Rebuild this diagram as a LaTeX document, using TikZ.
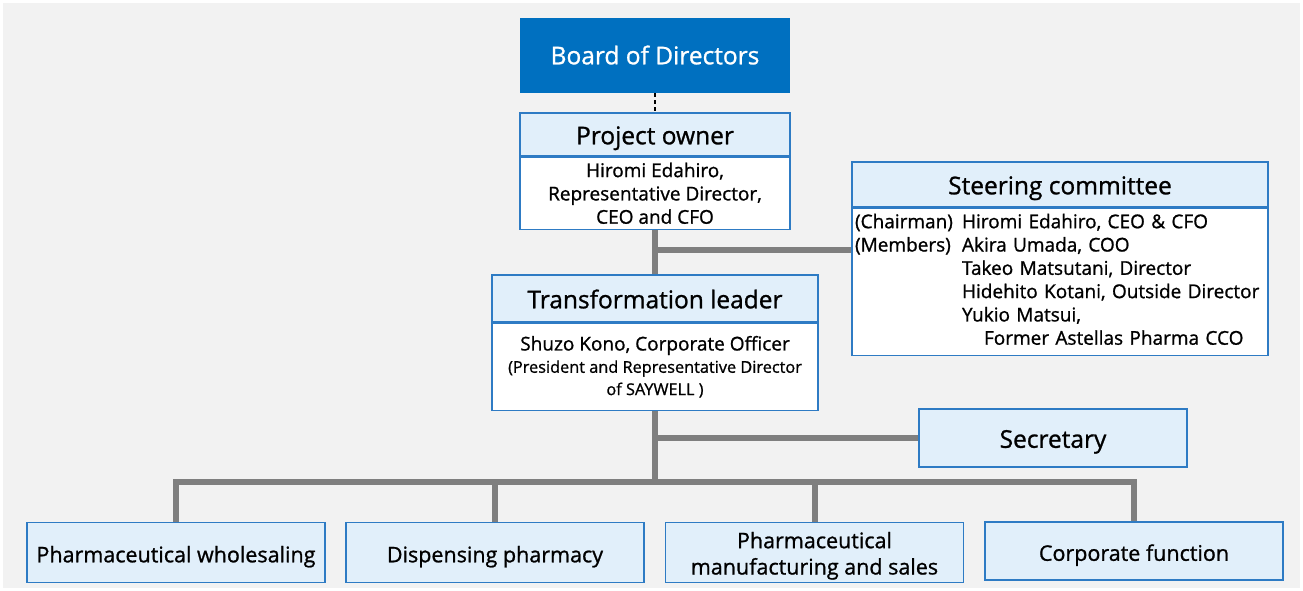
\documentclass[tikz,border=0pt]{standalone}
\usepackage{fontspec}
\setmainfont{Open Sans}[FakeBold=1]
\usetikzlibrary{positioning}

\definecolor{bggray}{HTML}{F2F2F2}
\definecolor{boardblue}{HTML}{0070C0}
\definecolor{boxline}{HTML}{2E7BC4}
\definecolor{headfill}{HTML}{E1EFFA}
\definecolor{linkgray}{HTML}{7F7F7F}

\newcommand{\subtxt}{\fontsize{16.3}{21}\selectfont}

\tikzset{
  head/.style={draw=boxline, line width=1.3pt, fill=headfill, inner sep=0pt,
    text height=19.6pt, text depth=0pt, font=\fontsize{24.5}{28}\selectfont},
  body/.style={draw=boxline, line width=1.3pt, fill=white, inner sep=0pt, align=center,
    font=\fontsize{19}{23.3}\selectfont},
  unit/.style={head, minimum width=298pt, minimum height=60pt, align=center,
    font=\fontsize{21.5}{26}\selectfont},
  link/.style={linkgray, line width=6pt},
}

\begin{document}
\begin{tikzpicture}[x=1pt, y=-1pt]
\useasboundingbox (0,0) rectangle (1303,590);
%background
\fill[white] (0,0) rectangle (1303,590);
\fill[bggray] (3,3) rectangle (1300,588);

%top
\node[fill=boardblue, text=white, minimum width=270pt, minimum height=75pt, inner sep=0pt,
  text height=17.6pt, text depth=0pt, font=\fontsize{24.5}{28}\selectfont]
  (board) at (655,55.5) {Board of Directors};

%project owner
\node[head, minimum width=270pt, minimum height=43pt] (po) at (655,134.5) {Project owner};
\node[body, minimum width=270pt, minimum height=72pt, below=0pt of po] (pob)
  {Hiromi Edahiro,\\Representative Director,\\CEO and CFO};

%steering committee
\node[head, minimum width=416pt, minimum height=45pt] (sc) at (1060,184.5) {Steering committee};
\node[body, minimum width=416pt, minimum height=147pt, below=0pt of sc, align=left,
  text width=410pt] (scb)
  {\begin{tabular}{@{}p{107pt}@{}l@{}}
   (Chairman) & Hiromi Edahiro, CEO \& CFO\\
   (Members)  & Akira Umada, COO\\
              & Takeo Matsutani, Director\\
              & Hidehito Kotani, Outside Director\\
              & Yukio Matsui,\\
              & \hspace{22pt}Former Astellas Pharma CCO
   \end{tabular}};

%transformation leader
\node[head, minimum width=326pt, minimum height=47pt] (tl) at (655,298.5) {Transformation leader};
\node[body, minimum width=326pt, minimum height=87pt, below=0pt of tl] (tlb)
  {Shuzo Kono, Corporate Officer\\[-1pt]
   \subtxt (President and Representative Director\\[-1pt]
   \subtxt of SAYWELL )};

%secretary
\node[head, minimum width=268pt, minimum height=58pt] (sec) at (1053,438) {Secretary};

%units
\node[unit] (pw) at (176,552.5) {Pharmaceutical wholesaling};
\node[unit] (dp) at (495,552.5) {Dispensing pharmacy};
\node[unit, text height=44pt] (pm) at (814.5,552.5) {Pharmaceutical\\[0.3pt]manufacturing and sales};
\node[unit, minimum height=58pt] (cf) at (1134,551) {Corporate function};

%links
\coordinate (sj) at (655,250);
\coordinate (bus) at (655,482);
\draw[black, line width=1.3pt, dash pattern=on 4pt off 3pt] (board.south) -- (po.north);
\draw[link] (pob.south) -- (tl.north);
\draw[link] (sj) -- (sj -| scb.west);
\draw[link] (tlb.south) -- (bus);
\draw[link] (sec.west) -- (sec.west -| tlb.south);
\draw[link] (pw.north) -- (pw.north |- bus) -- (cf.north |- bus) -- (cf.north);
\draw[link] (dp.north) -- (dp.north |- bus);
\draw[link] (pm.north) -- (pm.north |- bus);
\end{tikzpicture}
\end{document}
